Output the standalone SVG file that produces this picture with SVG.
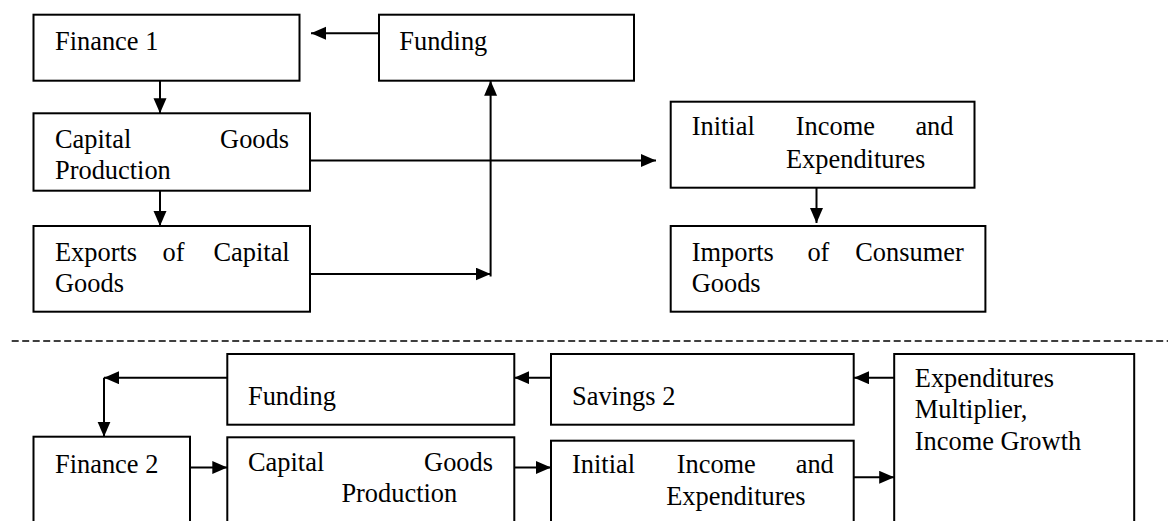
<svg xmlns="http://www.w3.org/2000/svg" width="1168" height="521" viewBox="0 0 1168 521">
<style>
  .box { fill: #ffffff; stroke: #000000; stroke-width: 2; }
  .lbl { font-family: "Liberation Serif", "Times New Roman", serif; font-size: 26.4px; fill: #000000; }
  .end { text-anchor: end; }
  .conn { fill: none; stroke: #000000; stroke-width: 2; }
  .arr { marker-end: url(#ah); }
  .dash { fill: none; stroke: #000000; stroke-width: 1.7; stroke-dasharray: 7 3.5; }
</style>
<defs>
  <marker id="ah" markerUnits="userSpaceOnUse" markerWidth="16" markerHeight="14" refX="15" refY="6.5" orient="auto">
    <path d="M0,0 L15,6.5 L0,13 z" fill="#000000"/>
  </marker>
</defs>
<rect width="1168" height="521" fill="#ffffff"/>

<g id="connectors">
  <path class="conn arr" d="M379,33.3 H311"/>
  <path class="conn arr" d="M160,80.7 V113.3"/>
  <path class="conn arr" d="M160,190.7 V226"/>
  <path class="conn arr" d="M310,274 H490.6"/>
  <path class="conn arr" d="M490.6,276.5 V80.7"/>
  <path class="conn arr" d="M310,160.5 H656"/>
  <path class="conn arr" d="M816.5,187.7 V223"/>
  <path class="dash" d="M11.7,341 H1168"/>
  <path class="conn arr" d="M551,377.7 H514.3"/>
  <path class="conn arr" d="M894.2,377.7 H854"/>
  <path class="conn arr" d="M227.3,377.7 H104"/>
  <path class="conn arr" d="M104,377.7 V436.7"/>
  <path class="conn arr" d="M190,467.5 H227.3"/>
  <path class="conn arr" d="M514.3,467.5 H551"/>
  <path class="conn arr" d="M853.7,477.3 H894.2"/>
</g>

<g id="finance1">
  <rect class="box" x="33.5" y="14.7" width="266" height="66"/>
  <text class="lbl" x="55" y="50">Finance 1</text>
</g>
<g id="funding1">
  <rect class="box" x="379" y="14.7" width="255" height="66"/>
  <text class="lbl" x="399.3" y="50">Funding</text>
</g>
<g id="capital1">
  <rect class="box" x="33.5" y="113.3" width="276.5" height="77.4"/>
  <text class="lbl" x="55" y="148.3">Capital</text>
  <text class="lbl end" x="289" y="148.3">Goods</text>
  <text class="lbl" x="55" y="179">Production</text>
</g>
<g id="exports">
  <rect class="box" x="33.5" y="226" width="276.5" height="85.7"/>
  <text class="lbl" x="55" y="261">Exports</text>
  <text class="lbl" x="162.6" y="261">of</text>
  <text class="lbl end" x="289.7" y="261">Capital</text>
  <text class="lbl" x="55" y="292">Goods</text>
</g>
<g id="initial1">
  <rect class="box" x="670.7" y="101.7" width="303.8" height="86"/>
  <text class="lbl" x="691.7" y="135">Initial</text>
  <text class="lbl" x="795.8" y="135">Income</text>
  <text class="lbl end" x="953.5" y="135">and</text>
  <text class="lbl" x="786" y="168.3">Expenditures</text>
</g>
<g id="imports">
  <rect class="box" x="670.7" y="226" width="314.7" height="85.7"/>
  <text class="lbl" x="691.7" y="261">Imports</text>
  <text class="lbl" x="807.4" y="261">of</text>
  <text class="lbl end" x="963.7" y="261">Consumer</text>
  <text class="lbl" x="691.7" y="292">Goods</text>
</g>
<g id="funding2">
  <rect class="box" x="227.3" y="354" width="287" height="70.7"/>
  <text class="lbl" x="248" y="405">Funding</text>
</g>
<g id="savings2">
  <rect class="box" x="551" y="354" width="302.7" height="70.7"/>
  <text class="lbl" x="572" y="405">Savings 2</text>
</g>
<g id="expenditures-multiplier">
  <rect class="box" x="894.2" y="354" width="240" height="200"/>
  <text class="lbl" x="914.8" y="387.3">Expenditures</text>
  <text class="lbl" x="914.8" y="418.3">Multiplier,</text>
  <text class="lbl" x="914.8" y="449.5">Income Growth</text>
</g>
<g id="finance2">
  <rect class="box" x="33.5" y="436.7" width="156.5" height="120"/>
  <text class="lbl" x="55" y="472.7">Finance 2</text>
</g>
<g id="capital2">
  <rect class="box" x="227.3" y="437.3" width="287" height="120"/>
  <text class="lbl" x="248" y="471">Capital</text>
  <text class="lbl end" x="493" y="471">Goods</text>
  <text class="lbl" x="341.4" y="501.7">Production</text>
</g>
<g id="initial2">
  <rect class="box" x="551" y="440.7" width="302.7" height="120"/>
  <text class="lbl" x="572" y="473.3">Initial</text>
  <text class="lbl" x="676.7" y="473.3">Income</text>
  <text class="lbl end" x="833.8" y="473.3">and</text>
  <text class="lbl" x="666.2" y="505">Expenditures</text>
</g>
</svg>
